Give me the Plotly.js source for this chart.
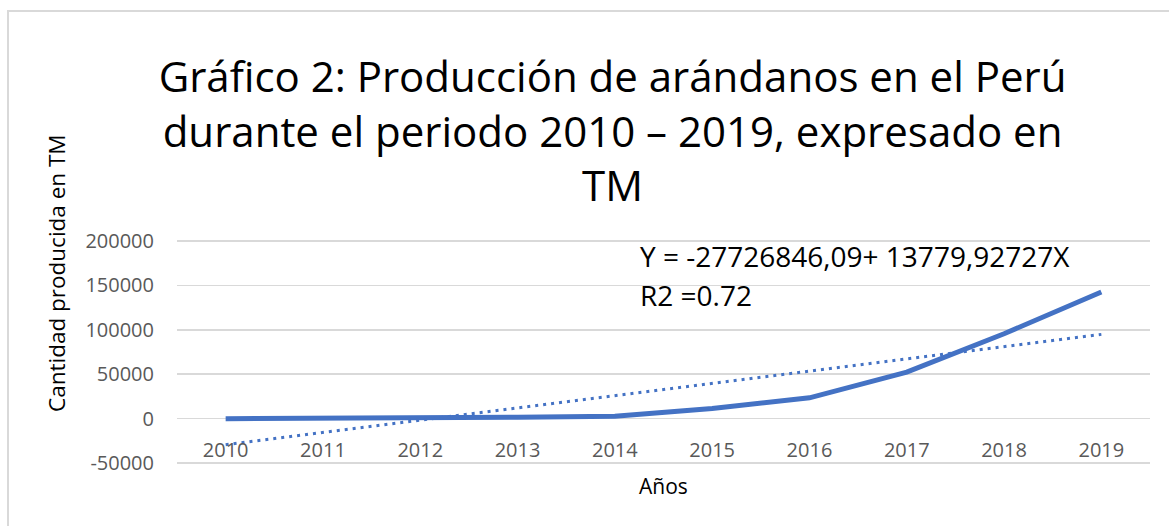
<!DOCTYPE html>
<html>
<head>
<meta charset="utf-8">
<script src="https://cdn.plot.ly/plotly-3.0.1.min.js"></script>
<style>
  body { margin: 0; overflow: hidden; background: white; }
  #grafico { position: absolute; left: 0; top: 0; width: 1169px; height: 526px; }
  #marco { position: absolute; left: 7px; top: 10px; width: 1200px; height: 600px;
           border-left: 2px solid #d9d9d9; border-top: 2px solid #d9d9d9; pointer-events: none; }
</style>
</head>
<body>
<div id="grafico"></div>
<div id="marco"></div>
<script>
// Datos del grafico
var anios = ['2010', '2011', '2012', '2013', '2014', '2015', '2016', '2017', '2018', '2019'];
var produccion = [30, 100, 400, 1600, 2900, 11500, 23500, 52300, 95500, 142500];
// Linea de tendencia (extremos)
var tendenciaX = ['2010', '2019'];
var tendenciaY = [-29200, 94800];
var ticksY = [-50000, 0, 50000, 100000, 150000, 200000];

var azul = '#4472C4';
var fuente = 'Open Sans, sans-serif';

var serie = {
    x: anios,
    y: produccion,
    type: 'scatter',
    mode: 'lines',
    line: { color: azul, width: 5 },
    hoverinfo: 'skip'
};

var tendencia = {
    x: tendenciaX,
    y: tendenciaY,
    type: 'scatter',
    mode: 'lines',
    line: { color: azul, width: 3, dash: '3px,5px' },
    hoverinfo: 'skip'
};

// posicion en papel a partir de pixeles del area de trazado
var L = 177, R = 1150, T = 239, B = 465;
function px(x) { return (x - L) / (R - L); }
function py(y) { return (B - y) / (B - T); }

var layout = {
    width: 1169,
    height: 526,
    margin: { l: L, r: 1169 - R, t: T, b: 526 - B },
    paper_bgcolor: 'white',
    plot_bgcolor: 'white',
    showlegend: false,
    title: {
        text: 'Gráfico 2: Producción de arándanos en el Perú<br>durante el periodo 2010 – 2019, expresado en<br>TM',
        font: { family: fuente, size: 42, color: '#000000' },
        xref: 'container',
        x: 0.524,
        xanchor: 'center',
        yref: 'container',
        y: 0.825,
        yanchor: 'middle'
    },
    xaxis: {
        type: 'category',
        categoryorder: 'array',
        categoryarray: anios,
        range: [-0.5, 9.5],
        anchor: 'free',
        position: 52000 / 254000,
        showgrid: false,
        showline: false,
        ticks: '',
        ticklabelstandoff: 17,
        tickfont: { family: fuente, size: 20, color: '#595959' },
        fixedrange: true
    },
    yaxis: {
        range: [-52000, 202000],
        tickvals: ticksY,
        ticktext: ticksY.map(String),
        showgrid: true,
        gridcolor: '#d9d9d9',
        gridwidth: 1.5,
        zeroline: false,
        showline: false,
        ticks: '',
        ticklabelstandoff: 22,
        tickfont: { family: fuente, size: 20, color: '#595959' },
        fixedrange: true
    },
    annotations: [
        {
            text: 'Cantidad producida en TM',
            textangle: -90,
            xref: 'paper', yref: 'paper',
            x: px(56), y: py(273),
            xanchor: 'center', yanchor: 'middle',
            showarrow: false,
            font: { family: fuente, size: 22.5, color: '#000000' }
        },
        {
            text: 'Años',
            xref: 'paper', yref: 'paper',
            x: px(663), y: py(486),
            xanchor: 'center', yanchor: 'middle',
            showarrow: false,
            font: { family: fuente, size: 21, color: '#000000' }
        },
        {
            text: 'Y = -27726846,09+ 13779,92727X',
            xref: 'paper', yref: 'paper',
            x: px(638), y: py(256),
            xanchor: 'left', yanchor: 'middle',
            showarrow: false,
            font: { family: fuente, size: 28, color: '#000000' }
        },
        {
            text: 'R2 =0.72',
            xref: 'paper', yref: 'paper',
            x: px(638), y: py(295),
            xanchor: 'left', yanchor: 'middle',
            showarrow: false,
            font: { family: fuente, size: 28, color: '#000000' }
        }
    ]
};

Plotly.newPlot('grafico', [serie, tendencia], layout, { staticPlot: true });
</script>
</body>
</html>
